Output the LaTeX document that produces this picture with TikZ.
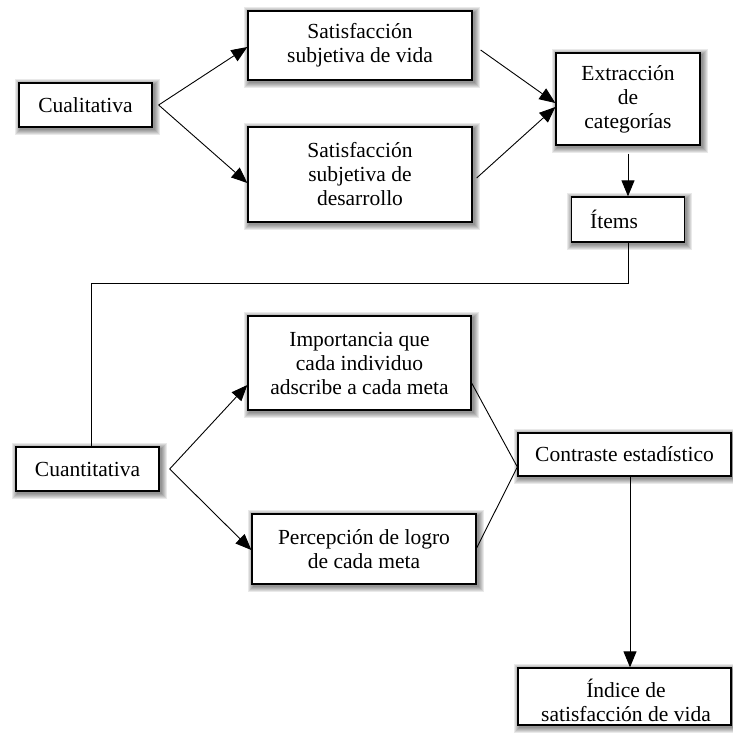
\documentclass[tikz,border=0pt]{standalone}
\usepackage{fontspec}
\setmainfont{Liberation Serif}
\usetikzlibrary{arrows.meta}
\begin{document}
\begin{tikzpicture}[x=1pt,y=-1pt,
  txt/.style={font=\fontsize{21.5}{24}\selectfont, align=center, inner sep=0pt},
  % soft grey glow under each box, built from stacked translucent strokes
  glow/.style={preaction={draw=black, line width=#1, opacity=0.085,
      transform canvas={shift={(1.5pt,-2pt)}}}},
  box/.style={txt, draw=black, line width=1.3pt, fill=white, rectangle,
    glow=2pt, glow=4pt, glow=6pt, glow=8pt, glow=10pt, glow=12pt},
  conn/.style={line width=0.9pt},
  arr/.style={conn, -{Triangle[length=16pt,width=13pt]}}]
\useasboundingbox (0,0) rectangle (733,737);

% qualitative branch
\node[box, minimum width=133, minimum height=44] (cual) at (85.5,105) {Cualitativa};
\node[box, minimum width=224, minimum height=69] (sv) at (360,45.5)
  {Satisfacción\\subjetiva de vida};
\node[box, minimum width=224, minimum height=95] (sd) at (360,174.5)
  {Satisfacción\\subjetiva de\\desarrollo};
\node[box, minimum width=144, minimum height=92] (ext) at (628,99)
  {Extracción\\de\\categorías};
\node[box, minimum width=113, minimum height=45] (items) at (628,219.5) {};
\node[txt] (itemstxt) at (614,219.5) {Ítems};

% quantitative branch
\node[box, minimum width=143, minimum height=44] (cuant) at (87.5,469) {Cuantitativa};
\node[box, minimum width=223, minimum height=94] (imp) at (359.5,363)
  {Importancia que\\cada individuo\\adscribe a cada meta};
\node[box, minimum width=224, minimum height=70] (perc) at (364,549)
  {Percepción de logro\\de cada meta};
\node[box, minimum width=213, minimum height=43] (cont) at (624.5,454.5)
  {Contraste estadístico};
\node[box, minimum width=213, minimum height=57] (idx) at (624.5,696.5) {};
\node[txt] (idxtxt) at (626,700) {Índice de\\satisfacción de vida};

% connectors
\draw[arr] ([xshift=6pt]cual.east) -- ([yshift=-1.5pt]sv.west);
\draw[arr] ([xshift=6pt]cual.east) -- ([yshift=-8.5pt]sd.west);
\draw[arr] ([xshift=8pt,yshift=-4.5pt]sv.east) -- ([yshift=-4pt]ext.west);
\draw[arr] ([xshift=4pt,yshift=-3.5pt]sd.east) -- ([yshift=-8pt]ext.west);
\draw[arr] ([yshift=-8pt]ext.south) -- (items.north);
\draw[conn] (items.south) -- (items.south |- 0,283) -| ([xshift=3.5pt]cuant.north);
\draw[arr] ([xshift=10pt]cuant.east) -- ([yshift=-22pt]imp.west);
\draw[arr] ([xshift=10pt]cuant.east) -- ([yshift=-1pt]perc.west);
\draw[conn] ([yshift=-20pt]imp.east) -- ([yshift=-12.5pt]cont.west)
  -- ([yshift=1pt]perc.east);
\draw[arr] ([xshift=5.5pt]cont.south) -- ([xshift=5.5pt]idx.north);
\end{tikzpicture}
\end{document}
